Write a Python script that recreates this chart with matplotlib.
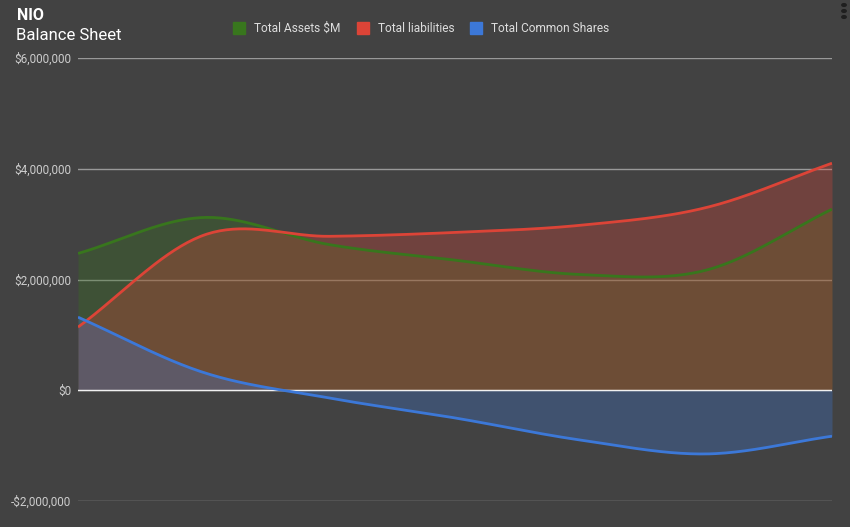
import numpy as np
import matplotlib.pyplot as plt
from matplotlib.patches import Rectangle
from matplotlib.ticker import FuncFormatter

plt.rcParams['font.family'] = ['Roboto', 'DejaVu Sans']

# values (7 periods, no x labels shown)
periods = list(range(7))
total_assets = [2.47e6, 3.12e6, 2.63e6, 2.35e6, 2.09e6, 2.17e6, 3.27e6]
total_liabilities = [1.14e6, 2.80e6, 2.78e6, 2.85e6, 2.98e6, 3.30e6, 4.10e6]
common_shares = [1.32e6, 0.32e6, -0.14e6, -0.50e6, -0.90e6, -1.15e6, -0.83e6]

series = [
    ("Total Assets $M", total_assets, "#38761d"),
    ("Total liabilities", total_liabilities, "#dc4437"),
    ("Total Common Shares", common_shares, "#3c78d8"),
]

BG = "#424242"


def smooth(xs, ys, n=40):
    # cardinal spline through the points, roughly like google's curveType 'function'
    xs = np.asarray(xs, float)
    ys = np.asarray(ys, float)
    m = len(xs)
    tx = np.zeros(m)
    ty = np.zeros(m)
    for i in range(m):
        a = max(i - 1, 0)
        b = min(i + 1, m - 1)
        tx[i] = (xs[b] - xs[a]) / (b - a)
        ty[i] = (ys[b] - ys[a]) / (b - a)
    out_x, out_y = [], []
    t = np.linspace(0, 1, n)
    h00 = 2 * t**3 - 3 * t**2 + 1
    h10 = t**3 - 2 * t**2 + t
    h01 = -2 * t**3 + 3 * t**2
    h11 = t**3 - t**2
    for i in range(m - 1):
        out_x.extend(h00 * xs[i] + h10 * tx[i] + h01 * xs[i + 1] + h11 * tx[i + 1])
        out_y.extend(h00 * ys[i] + h10 * ty[i] + h01 * ys[i + 1] + h11 * ty[i + 1])
    return np.array(out_x), np.array(out_y)


fig = plt.figure(figsize=(8.5, 5.27), dpi=100, facecolor=BG)
ax = fig.add_axes([78 / 850, 26 / 527, 754 / 850, 443 / 527])
ax.set_facecolor(BG)

ax.set_ylim(-2e6, 6e6)
ax.set_xlim(periods[0], periods[-1])
ax.set_yticks([-2e6, 0, 2e6, 4e6, 6e6])
ax.yaxis.set_major_formatter(FuncFormatter(
    lambda v, p: ("-$" if v < 0 else "$") + f"{abs(v):,.0f}"))
ax.grid(axis="y", color="#999999", linewidth=1, zorder=0)
ax.set_xticks([])
for s in ax.spines.values():
    s.set_visible(False)
ax.tick_params(axis="y", length=0, pad=5, labelsize=8.5, labelcolor="#cccccc")

for name, vals, col in series:
    sx, sy = smooth(periods, vals)
    ax.fill_between(sx, 0, sy, color=col, alpha=0.3, linewidth=0, zorder=2)
    ax.plot(sx, sy, color=col, linewidth=2, zorder=3, solid_capstyle="butt")

ax.axhline(0, color="#f0f0f0", linewidth=1, zorder=2.5)

fig.text(17 / 850, 1 - 16 / 527, "NIO", fontsize=11.5, fontweight="bold",
         color="white", va="center")
fig.text(16 / 850, 1 - 35 / 527, "Balance Sheet", fontsize=12,
         color="white", va="center")

# legend drawn by hand to sit like google's top legend
leg_x = [233, 357, 470]
for (name, vals, col), lx in zip(series, leg_x):
    fig.patches.append(Rectangle((lx / 850, 1 - 34 / 527), 12 / 850, 12 / 527,
                                 transform=fig.transFigure, color=col))
    fig.text((lx + 21) / 850, 1 - 28 / 527, name, fontsize=8.6,
             color="#dddddd", va="center")

for yy in [5, 11, 17]:
    fig.patches.append(plt.Circle((844 / 850, 1 - yy / 527), 2.2 / 850,
                                  transform=fig.transFigure, color="#1f1f1f"))

fig.savefig("out.png", dpi=100, facecolor=BG)
